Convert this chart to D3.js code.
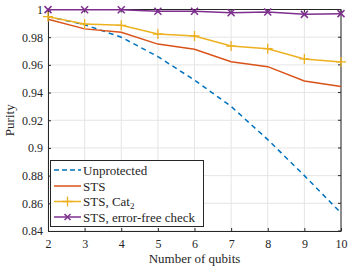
<!DOCTYPE html>
<html><head><meta charset="utf-8">
<script src="https://cdn.jsdelivr.net/npm/d3@7/dist/d3.min.js"></script>
<style>body{margin:0;background:#fff}svg{display:block}text{font-family:"Liberation Serif","Times New Roman",serif;fill:#262626}</style>
</head><body><svg id="c" width="357" height="269"></svg>
<script>
const qubits = [2,3,4,5,6,7,8,9,10];
const unprotected = [0.995,0.989,0.980,0.966,0.949,0.930,0.906,0.880,0.853];
const sts = [0.993,0.986,0.9835,0.975,0.9713,0.9623,0.9587,0.9484,0.9443];
const stsCat2 = [0.9948,0.9895,0.9886,0.9823,0.9809,0.9736,0.9717,0.9643,0.9621];
const stsErrorFree = [0.9999,0.9998,0.9998,0.9987,0.9988,0.9977,0.9982,0.9965,0.997];
const yTicks = [0.84,0.86,0.88,0.9,0.92,0.94,0.96,0.98,1];
const xTicks = [2,3,4,5,6,7,8,9,10];
const seriesNames = ["Unprotected","STS","STS, Cat","STS, error-free check"];

const svg = d3.select("#c");
const L=48, R=341, T=9.5, B=231;
const x = d3.scaleLinear().domain([2,10]).range([L,R]);
const y = d3.scaleLinear().domain([0.84,1]).range([B,T]);

// grid
svg.append("g").selectAll("line").data(xTicks).join("line")
  .attr("x1",d=>x(d)).attr("x2",d=>x(d)).attr("y1",T).attr("y2",B)
  .attr("stroke","#e5e5e5").attr("stroke-width",1);
svg.append("g").selectAll("line").data(yTicks).join("line")
  .attr("y1",d=>y(d)).attr("y2",d=>y(d)).attr("x1",L).attr("x2",R)
  .attr("stroke","#e5e5e5").attr("stroke-width",1);

// box + inward ticks
const ax = svg.append("g");
ax.append("line").attr("x1",L).attr("x2",R).attr("y1",T).attr("y2",T).attr("stroke","#262626");
ax.append("line").attr("x1",R).attr("x2",R).attr("y1",T).attr("y2",B).attr("stroke","#8c8c8c").attr("stroke-width",2);
const gx = svg.append("g").attr("transform",`translate(0,${B})`)
  .call(d3.axisBottom(x).tickValues(xTicks).tickFormat(d3.format("d")).tickSizeInner(-3).tickSizeOuter(0).tickPadding(8));
const gy = svg.append("g").attr("transform",`translate(${L},0)`)
  .call(d3.axisLeft(y).tickValues(yTicks).tickFormat(d=>d===1?"1":d3.format(".2~f")(d)).tickSizeInner(-3).tickSizeOuter(0).tickPadding(5));
[gx,gy].forEach(g=>{
  g.select(".domain").attr("stroke","#262626");
  g.selectAll(".tick line").attr("stroke","#262626");
  g.selectAll("text").attr("font-size",12).attr("fill","#262626").style("font-family","Liberation Serif, serif");
});
gx.selectAll("text").attr("dy","0.71em");
// top and right ticks
svg.append("g").selectAll("line").data(xTicks).join("line")
  .attr("x1",d=>x(d)).attr("x2",d=>x(d)).attr("y1",T).attr("y2",T+3).attr("stroke","#262626");
svg.append("g").selectAll("line").data(yTicks).join("line")
  .attr("y1",d=>y(d)).attr("y2",d=>y(d)).attr("x1",R-3).attr("x2",R).attr("stroke","#262626");

const colors = ["#0072BD","#D95319","#EDB120","#7E2F8E"];
const data = [unprotected, sts, stsCat2, stsErrorFree];
const line = d3.line().x((d,i)=>x(qubits[i])).y(d=>y(d));
const plot = svg.append("g");
data.forEach((s,k)=>{
  plot.append("path").datum(s).attr("d",line).attr("fill","none")
    .attr("stroke",colors[k]).attr("stroke-width",1.5)
    .attr("stroke-dasharray",k===0?"5,4":null);
});
function plus(g,cx,cy,c,r){g.append("path").attr("d",`M${cx-r},${cy}H${cx+r}M${cx},${cy-r}V${cy+r}`).attr("stroke",c).attr("stroke-width",1.3).attr("fill","none");}
function cross(g,cx,cy,c,r){g.append("path").attr("d",`M${cx-r},${cy-r}L${cx+r},${cy+r}M${cx-r},${cy+r}L${cx+r},${cy-r}`).attr("stroke",c).attr("stroke-width",1.5).attr("fill","none");}
stsCat2.forEach((v,i)=>plus(plot,x(qubits[i]),y(v),colors[2],5));
stsErrorFree.forEach((v,i)=>cross(plot,x(qubits[i]),y(v),colors[3],3.5));

// legend
const lg = svg.append("g");
lg.append("rect").attr("x",50.5).attr("y",160.5).attr("width",153).attr("height",66)
  .attr("fill","#fff").attr("stroke","#262626").attr("stroke-width",1);
const rows=[170,186,201.5,217];
seriesNames.forEach((n,k)=>{
  lg.append("line").attr("x1",54).attr("x2",81).attr("y1",rows[k]).attr("y2",rows[k])
    .attr("stroke",colors[k]).attr("stroke-width",1.5).attr("stroke-dasharray",k===0?"5,3":null);
  if(k===2) plus(lg,67.5,rows[k],colors[k],5);
  if(k===3) cross(lg,67.5,rows[k],colors[k],3);
  const t = lg.append("text").attr("x",83).attr("y",rows[k]).attr("dy","0.35em").attr("font-size",13).text(n);
  if(k===2) t.append("tspan").attr("font-size",9).attr("dy","3").text("2");
});

svg.append("text").attr("x",(L+R)/2).attr("y",263).attr("text-anchor","middle").attr("font-size",13).text("Number of qubits");
svg.append("text").attr("transform",`translate(14,${(T+B)/2}) rotate(-90)`).attr("text-anchor","middle").attr("font-size",13).text("Purity");
</script></body></html>
